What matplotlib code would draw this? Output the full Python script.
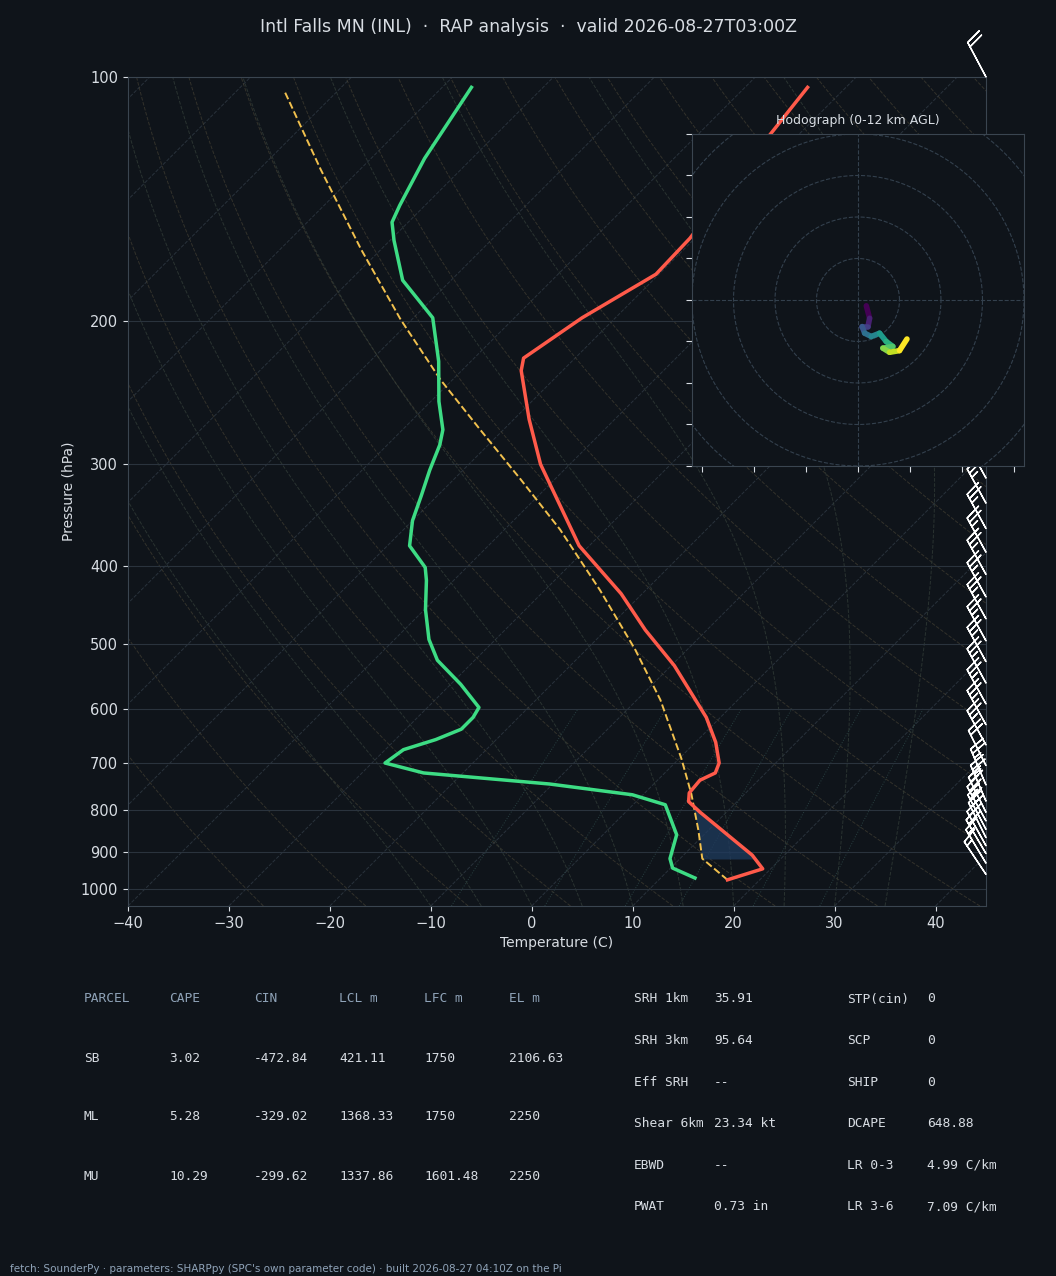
import numpy as np
import matplotlib.pyplot as plt
from matplotlib.collections import LineCollection

BG = '#0f141a'
GRID = '#2a333d'
TXT = '#d8dde3'
HDR = '#8fa3b8'

# sounding (pressure hPa, temperature C)
t_p = [975, 945, 909, 805, 781, 762, 735, 720, 700, 660, 615, 531, 480, 433,
       378, 300, 264, 230, 222, 198, 175, 158, 140, 120, 103]
t_c = [16.8, 19.2, 16.8, 7.4, 5.2, 4.4, 4.2, 5.0, 4.4, 2.0, -1.4, -9.7, -16.1,
       -22.1, -31.0, -42.9, -48.5, -54.1, -55.1, -53.3, -50.3, -50.5, -51.5,
       -52.7, -53.8]
td_p = [970, 943, 918, 858, 788, 766, 743, 720, 700, 674, 655, 636, 615, 598,
        560, 523, 493, 453, 417, 402, 378, 352, 328, 305, 284, 272, 251, 224,
        198, 178, 159, 151, 144, 126, 103]
td_c = [13.4, 10.2, 9.0, 7.3, 3.2, -1.05, -10.3, -23.9, -28.7, -28.2, -26.0,
        -24.5, -24.5, -24.9, -29.0, -33.7, -36.6, -39.9, -42.7, -44.1, -47.8,
        -50.0, -51.6, -53.3, -54.8, -56.0, -59.2, -63.2, -68.1, -74.8, -79.6,
        -81.6, -82.5, -84.7, -87.1]
parcel_p = [975, 918, 847, 764, 691, 585, 508, 429, 361, 313, 272, 236, 199,
            163, 130, 104]
parcel_c = [16.8, 12.2, 9.0, 4.7, 0.2, -7.7, -15.1, -24.5, -34.5, -43.4,
            -52.3, -61.2, -71.1, -82.0, -93.9, -105.3]
cin_top, cin_bot = 790, 919

# winds (kt)
barb_p = [960, 930, 905, 885, 865, 845, 825, 805, 780, 745, 705, 665, 628,
          592, 558, 525, 495, 465, 437, 410, 385, 360, 335, 312, 100]
barb_u = [8, 9, 10, 10, 9, 10, 11, 10, 9, 9, 10, 11, 11, 11, 11, 11, 11, 11,
          11, 11, 11, 11, 11, 11, 9]
barb_v = [-12, -15, -17, -18, -18, -19, -20, -20, -21, -21, -20, -20, -20,
          -20, -20, -20, -20, -20, -20, -20, -20, -20, -20, -20, -17]

# hodograph (u, v kt)
hodo_u = [2, 2.8, 2.4, 1.0, 1.6, 3.2, 5.2, 6.8, 8.4, 6.0, 7.6, 10, 11.8]
hodo_v = [-1.4, -4.4, -6.4, -6.4, -8.0, -8.8, -8.0, -10, -11.2, -11.6, -12.6,
          -12.2, -9.4]

param_hdr = ['PARCEL', 'CAPE', 'CIN', 'LCL m', 'LFC m', 'EL m']
param_rows = [['SB', '3.02', '-472.84', '421.11', '1750', '2106.63'],
              ['ML', '5.28', '-329.02', '1368.33', '1750', '2250'],
              ['MU', '10.29', '-299.62', '1337.86', '1601.48', '2250']]
idx_left = [('SRH 1km', '35.91'), ('SRH 3km', '95.64'), ('Eff SRH', '--'),
            ('Shear 6km', '23.34 kt'), ('EBWD', '--'), ('PWAT', '0.73 in')]
idx_right = [('STP(cin)', '0'), ('SCP', '0'), ('SHIP', '0'), ('DCAPE', '648.88'),
             ('LR 0-3', '4.99 C/km'), ('LR 3-6', '7.09 C/km')]

P0 = 1050.0
K = 34.94


def skx(t, p):
    return np.asarray(t) + K * np.log(P0 / np.asarray(p, dtype=float))


def es(tc):
    return 6.112 * np.exp(17.67 * tc / (tc + 243.5))


fig = plt.figure(figsize=(10.56, 12.76), dpi=100, facecolor=BG)
ax = fig.add_axes([0.1212, 0.29, 0.8125, 0.6497], facecolor=BG)
ax.set_yscale('log')
ax.set_ylim(P0, 100)
ax.set_xlim(-40, 45)

pp = np.geomspace(P0, 100, 200)
# isotherms
for t0 in range(-160, 60, 10):
    ax.plot(skx(t0, pp), pp, color='#3a4652', lw=0.7, ls='--', alpha=0.6, zorder=1)
# dry adiabats
for th in range(-30, 200, 10):
    tk = (th + 273.15) * (pp / 1000.0) ** 0.2857 - 273.15
    ax.plot(skx(tk, pp), pp, color='#4a4536', lw=0.7, ls='--', alpha=0.6, zorder=1)
# moist adiabats
for t0 in range(-10, 40, 5):
    tcur = float(t0)
    out = []
    for i, p in enumerate(pp):
        out.append(tcur)
        if i + 1 < len(pp):
            tk = tcur + 273.15
            rs = 0.622 * es(tcur) / (p - es(tcur))
            dtdp = (287 * tk / p) * (1 + 2.5e6 * rs / (287 * tk)) / (1004 + 2.5e6 ** 2 * rs * 0.622 / (287 * tk ** 2))
            tcur += dtdp * (pp[i + 1] - p)
    ax.plot(skx(out, pp), pp, color='#35403a', lw=0.7, ls='--', alpha=0.7, zorder=1)
# mixing ratio lines
pm = np.geomspace(P0, 600, 50)
for w in [2, 4, 7, 10, 16, 24]:
    e = pm * w / 1000.0 / (0.622 + w / 1000.0)
    td = 243.5 * np.log(e / 6.112) / (17.67 - np.log(e / 6.112))
    ax.plot(skx(td, pm), pm, color='#2e4a4a', lw=0.7, ls=':', alpha=0.8, zorder=1)

yt = [100, 200, 300, 400, 500, 600, 700, 800, 900, 1000]
for p in yt:
    ax.axhline(p, color=GRID, lw=0.8, zorder=1)
ax.set_yticks(yt)
ax.set_yticklabels([str(v) for v in yt])
ax.yaxis.set_minor_locator(plt.NullLocator())
ax.set_xticks(range(-40, 50, 10))

# CIN shading
sp = np.linspace(cin_bot, cin_top, 40)
tt = np.interp(sp[::-1], t_p[::-1], t_c[::-1])[::-1]
pc = np.interp(sp[::-1], parcel_p[::-1], parcel_c[::-1])[::-1]
ax.fill_betweenx(sp, skx(pc, sp), skx(tt, sp), where=tt > pc, color='#1f3b5e',
                 alpha=0.75, lw=0, zorder=2)

ax.plot(skx(parcel_c, parcel_p), parcel_p, color='#f2c14e', lw=1.4, ls='--', zorder=3)
ax.plot(skx(t_c, t_p), t_p, color='#ff5a4a', lw=2.5, zorder=4)
ax.plot(skx(td_c, td_p), td_p, color='#3ddc84', lw=2.5, zorder=4)

ax.barbs(np.full(len(barb_p), 45.0), barb_p, barb_u, barb_v, color='white',
         length=7.5, lw=1.0, clip_on=False, zorder=5)

for s in ax.spines.values():
    s.set_color('#3a4550')
ax.tick_params(colors=TXT, labelsize=10.5)
ax.set_xlabel('Temperature (C)', color=TXT, fontsize=10)
ax.set_ylabel('Pressure (hPa)', color=TXT, fontsize=10)

fig.text(0.5, 0.979, 'Intl Falls MN (INL)  \u00b7  RAP analysis  \u00b7  valid 2026-08-27T03:00Z',
         ha='center', va='center', color=TXT, fontsize=12.5)

# hodograph
hx = fig.add_axes([0.6553, 0.6348, 0.3144, 0.2602], facecolor=BG)
hx.set_xlim(-40, 40)
hx.set_ylim(-40, 40)
th = np.linspace(0, 2 * np.pi, 200)
for r in [10, 20, 30, 40, 50]:
    hx.plot(r * np.cos(th), r * np.sin(th), color='#33404d', lw=0.8, ls='--')
hx.axhline(0, color='#33404d', lw=0.8, ls='--')
hx.axvline(0, color='#33404d', lw=0.8, ls='--')
pts = np.column_stack([hodo_u, hodo_v])
seg = np.stack([pts[:-1], pts[1:]], axis=1)
lc = LineCollection(seg, cmap='viridis', linewidths=4, capstyle='round')
lc.set_array(np.arange(len(seg)))
hx.add_collection(lc)
hx.set_xticks(np.arange(-37.5, 40, 12.5))
hx.set_yticks(range(-40, 50, 10))
hx.set_xticklabels([])
hx.set_yticklabels([])
hx.tick_params(colors=TXT, length=4)
for s in hx.spines.values():
    s.set_color('#3a4550')
hx.set_title('Hodograph (0-12 km AGL)', color=TXT, fontsize=9, pad=7)

# parameter table
mono = 'DejaVu Sans Mono'
cols = [84, 169, 254, 339, 424, 509]


def fx(px):
    return px / 1056.0


def fy(py):
    return 1 - py / 1276.0


for c, h in zip(cols, param_hdr):
    fig.text(fx(c), fy(999), h, color=HDR, family=mono, fontsize=9.3, va='center')
for r, row in enumerate(param_rows):
    for c, v in zip(cols, row):
        fig.text(fx(c), fy(1058 + 59 * r), v, color=TXT, family=mono, fontsize=9.3, va='center')
for i, ((a, b), (c, d)) in enumerate(zip(idx_left, idx_right)):
    y = fy(999 + 41.6 * i)
    fig.text(fx(634), y, a, color=TXT, family=mono, fontsize=9.3, va='center')
    fig.text(fx(714), y, b, color=TXT, family=mono, fontsize=9.3, va='center')
    fig.text(fx(847), y, c, color=TXT, family=mono, fontsize=9.3, va='center')
    fig.text(fx(927), y, d, color=TXT, family=mono, fontsize=9.3, va='center')

fig.text(fx(10), fy(1269), "fetch: SounderPy \u00b7 parameters: SHARPpy (SPC's own parameter code) \u00b7 built 2026-08-27 04:10Z on the Pi",
         color=HDR, fontsize=7.5, va='center')

fig.savefig('out.png', dpi=100, facecolor=BG)
